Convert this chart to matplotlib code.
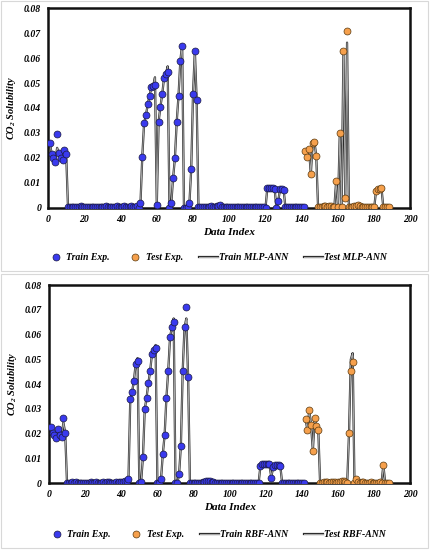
import matplotlib
matplotlib.use("Agg")
import matplotlib.pyplot as plt
import matplotlib.patheffects as pe
from matplotlib.patches import Rectangle
import numpy as np

plt.rcParams['font.family'] = ['Liberation Serif', 'DejaVu Serif']
plt.rcParams['mathtext.fontset'] = 'custom'
plt.rcParams['mathtext.rm'] = 'Liberation Serif:bold:italic'
plt.rcParams['mathtext.it'] = 'Liberation Serif:bold:italic'

# ---- data ----
# train points use data index 1..141, test points 142..188
train_start = 1
test_start = 142

mlp_train_exp = [
    0.0260, 0.0214, 0.0200, 0.0185, 0.0297, 0.0218, 0.0200, 0.0190, 0.0230, 0.0215,
    0.0002, 0.0003, 0.0002, 0.0004, 0.0003, 0.0002, 0.0003, 0.0005, 0.0003, 0.0002,
    0.0001, 0.0002, 0.0003, 0.0002, 0.0003, 0.0004, 0.0002, 0.0003, 0.0004, 0.0003,
    0.0004, 0.0006, 0.0003, 0.0002, 0.0001, 0.0003, 0.0004, 0.0005, 0.0003, 0.0002,
    0.0004, 0.0006, 0.0002, 0.0003, 0.0004, 0.0005, 0.0003, 0.0004, 0.0006, 0.0000,
    0.0018, 0.0205, 0.0340, 0.0370, 0.0415, 0.0450, 0.0483, 0.0488, 0.0493, 0.0010,
    0.0345, 0.0405, 0.0455, 0.0520, 0.0536, 0.0545, 0.0000, 0.0017, 0.0120, 0.0198,
    0.0345, 0.0450, 0.0590, 0.0650, 0.0000, 0.0000, 0.0003, 0.0017, 0.0154, 0.0455,
    0.0630, 0.0430, 0.0002, 0.0003, 0.0002, 0.0004, 0.0003, 0.0002, 0.0004, 0.0005,
    0.0003, 0.0004, 0.0006, 0.0008, 0.0010, 0.0004, 0.0002, 0.0003, 0.0002, 0.0001,
    0.0002, 0.0003, 0.0002, 0.0001, 0.0002, 0.0003, 0.0002, 0.0001, 0.0002, 0.0003,
    0.0002, 0.0001, 0.0002, 0.0003, 0.0002, 0.0001, 0.0002, 0.0003, 0.0002, 0.0000,
    0.0078, 0.0078, 0.0077, 0.0078, 0.0076, 0.0000, 0.0025, 0.0074, 0.0074, 0.0071,
    0.0001, 0.0002, 0.0001, 0.0002, 0.0001, 0.0002, 0.0001, 0.0002, 0.0001, 0.0002, 0.0001,
]
mlp_test_exp = [
    0.0229, 0.0205, 0.0236, 0.0135, 0.0258, 0.0264, 0.0207,
    0.0003, 0.0004, 0.0002, 0.0006, 0.0008, 0.0004, 0.0007, 0.0005, 0.0003, 0.0002,
    0.0108, 0.0004, 0.0298, 0.0002, 0.0630, 0.0040, 0.0709, 0.0002,
    0.0003, 0.0004, 0.0006, 0.0008, 0.0010, 0.0005, 0.0003, 0.0004, 0.0002, 0.0003,
    0.0002, 0.0001, 0.0002,
    0.0002, 0.0068, 0.0073, 0.0075, 0.0078,
    0.0002, 0.0001, 0.0002, 0.0001,
]
# model curve equals the points except where it visibly departs
mlp_train_pred_diff = {5: 0.0240, 59: 0.0523, 66: 0.0567, 74: 0.0655}
mlp_test_pred_diff = {161: 0.0300, 163: 0.0620, 165: 0.0662}

rbf_train_exp = [
    0.0229, 0.0202, 0.0195, 0.0184, 0.0218, 0.0195, 0.0188, 0.0262, 0.0204, 0.0002,
    0.0003, 0.0002, 0.0004, 0.0003, 0.0005, 0.0003, 0.0002, 0.0001, 0.0002, 0.0003,
    0.0002, 0.0003, 0.0004, 0.0002, 0.0003, 0.0005, 0.0003, 0.0002, 0.0003, 0.0004,
    0.0003, 0.0005, 0.0006, 0.0003, 0.0002, 0.0003, 0.0004, 0.0003, 0.0005, 0.0006,
    0.0004, 0.0008, 0.0010, 0.0016, 0.0340, 0.0368, 0.0414, 0.0481, 0.0495, 0.0000,
    0.0007, 0.0105, 0.0298, 0.0346, 0.0403, 0.0454, 0.0522, 0.0538, 0.0545, 0.0000,
    0.0000, 0.0016, 0.0118, 0.0195, 0.0346, 0.0454, 0.0589, 0.0629, 0.0649, 0.0000,
    0.0000, 0.0038, 0.0152, 0.0454, 0.0629, 0.0710, 0.0428, 0.0001, 0.0002, 0.0001,
    0.0002, 0.0003, 0.0002, 0.0003, 0.0004, 0.0006, 0.0008, 0.0010, 0.0009, 0.0006,
    0.0004, 0.0002, 0.0001, 0.0002, 0.0001, 0.0002, 0.0001, 0.0002, 0.0001, 0.0002,
    0.0001, 0.0002, 0.0001, 0.0002, 0.0001, 0.0002, 0.0001, 0.0002, 0.0001, 0.0002,
    0.0001, 0.0002, 0.0001, 0.0002, 0.0001, 0.0002, 0.0070, 0.0077, 0.0078, 0.0077,
    0.0077, 0.0076, 0.0023, 0.0067, 0.0074, 0.0075, 0.0072, 0.0070, 0.0001, 0.0002,
    0.0001, 0.0002, 0.0001, 0.0002, 0.0001, 0.0002, 0.0001, 0.0002, 0.0001, 0.0002, 0.0001,
]
rbf_test_exp = [
    0.0258, 0.0213, 0.0296, 0.0234, 0.0132, 0.0262, 0.0231, 0.0215,
    0.0002, 0.0003, 0.0004, 0.0006, 0.0005, 0.0003, 0.0004, 0.0007, 0.0005, 0.0003,
    0.0004, 0.0006, 0.0008, 0.0010, 0.0004, 0.0002,
    0.0204, 0.0453, 0.0491,
    0.0003, 0.0016, 0.0004, 0.0003, 0.0005, 0.0004, 0.0003, 0.0002, 0.0003, 0.0004,
    0.0002, 0.0003, 0.0002, 0.0003, 0.0004, 0.0002,
    0.0074, 0.0001, 0.0002, 0.0001,
]
rbf_train_pred_diff = {8: 0.0245, 49: 0.0505, 59: 0.0558, 69: 0.0665, 76: 0.0665}
rbf_test_pred_diff = {167: 0.0500, 168: 0.0525}

x_ticks = [0, 20, 40, 60, 80, 100, 120, 140, 160, 180, 200]
y_ticks = [0, 0.01, 0.02, 0.03, 0.04, 0.05, 0.06, 0.07, 0.08]
y_tick_labels = ['0', '0.01', '0.02', '0.03', '0.04', '0.05', '0.06', '0.07', '0.08']

BLUE = '#3a3aee'
ORANGE = '#f6a04c'
LINE_GRAY = '#a8a8a8'


def with_diff(values, start, diff):
    out = list(values)
    for idx, v in diff.items():
        out[idx - start] = v
    return out


def draw_panel(ax, train_exp, test_exp, train_diff, test_diff, model):
    xtr = np.arange(train_start, train_start + len(train_exp))
    xte = np.arange(test_start, test_start + len(test_exp))
    fx = [pe.Stroke(linewidth=1.6, foreground='#2a2a2a'), pe.Normal()]
    l1, = ax.plot(xtr, with_diff(train_exp, train_start, train_diff),
                  color=LINE_GRAY, lw=0.75, path_effects=fx, zorder=2,
                  label='Train ' + model)
    l2, = ax.plot(xte, with_diff(test_exp, test_start, test_diff),
                  color=LINE_GRAY, lw=0.75, path_effects=fx, zorder=2,
                  label='Test ' + model)
    p1, = ax.plot(xtr, train_exp, 'o', ms=5.0, mfc=BLUE, mec='#1a1a40',
                  mew=0.5, zorder=3, label='Train Exp.')
    p2, = ax.plot(xte, test_exp, 'o', ms=5.0, mfc=ORANGE, mec='#5a3a10',
                  mew=0.5, zorder=3, label='Test Exp.')
    ax.set_xlim(0, 200)
    ax.set_ylim(0, 0.08)
    ax.set_xticks(x_ticks)
    ax.set_xticklabels([str(t) for t in x_ticks])
    ax.set_yticks(y_ticks)
    ax.set_yticklabels(y_tick_labels)
    ax.tick_params(length=0, labelsize=7, pad=5)
    for lab in ax.get_xticklabels() + ax.get_yticklabels():
        lab.set_fontweight('bold')
        lab.set_fontstyle('italic')
    for sp in ax.spines.values():
        sp.set_linewidth(1.8)
        sp.set_color('#111111')
    ax.set_xlabel('Data Index', fontsize=8, fontweight='bold', style='italic', labelpad=3)
    ax.set_ylabel(r'CO$_\mathrm{2}$ Solubility', fontsize=7.5, fontweight='bold',
                  style='italic', labelpad=4)
    return [p1, p2, l1, l2]


fig = plt.figure(figsize=(4.33, 5.5), dpi=100)

# light frames around the two stacked panels
fig.patches.append(Rectangle((0.003, 0.508), 0.985, 0.49, transform=fig.transFigure,
                             fill=False, ec='#d8d8d8', lw=0.8))
fig.patches.append(Rectangle((0.003, 0.004), 0.985, 0.497, transform=fig.transFigure,
                             fill=False, ec='#d8d8d8', lw=0.8))

ax1 = fig.add_axes([0.111, 0.6224, 0.837, 0.3626])
h1 = draw_panel(ax1, mlp_train_exp, mlp_test_exp,
                mlp_train_pred_diff, mlp_test_pred_diff, 'MLP-ANN')
ax2 = fig.add_axes([0.113, 0.1213, 0.835, 0.3605])
h2 = draw_panel(ax2, rbf_train_exp, rbf_test_exp,
                rbf_train_pred_diff, rbf_test_pred_diff, 'RBF-ANN')

leg_font = {'family': 'Liberation Serif', 'weight': 'bold', 'style': 'italic', 'size': 7}
for handles, y in [(h1, 0.531), (h2, 0.028)]:
    fig.legend(handles=handles, loc='center', bbox_to_anchor=(0.5, y), ncol=4,
               frameon=False, prop=leg_font, handlelength=2.0, handletextpad=0.1,
               columnspacing=1.6)

fig.savefig('out.png', dpi=100)
